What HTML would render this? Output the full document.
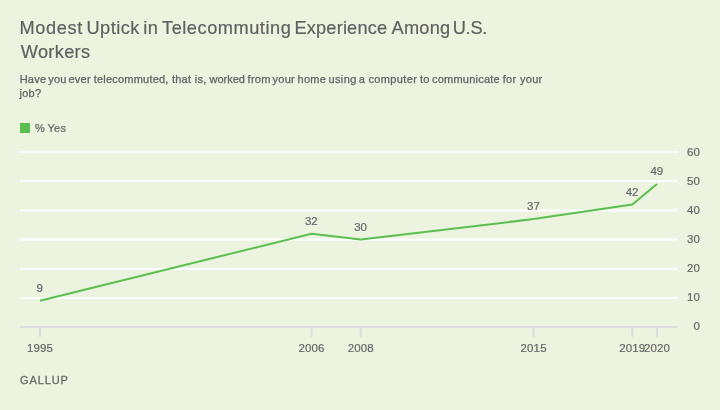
<!DOCTYPE html>
<html><head><meta charset="utf-8">
<style>
html,body{margin:0;padding:0;}
body{width:720px;height:410px;background:#ecf3de;overflow:hidden;position:relative;font-family:"Liberation Sans",Arial,sans-serif;}
svg{position:absolute;left:0;top:0;}
text{font-family:"Liberation Sans",Arial,sans-serif;}
.title{font-size:18.2px;fill:#606261;stroke:#606261;stroke-width:0.2px;}
.sub{font-size:11px;fill:#616362;stroke:#616362;stroke-width:0.25px;}
.leg{font-size:11px;fill:#616362;letter-spacing:0.3px;word-spacing:-0.8px;stroke:#616362;stroke-width:0.2px;}
.ax{font-size:11.5px;fill:#666867;letter-spacing:0.15px;stroke:#666867;stroke-width:0.2px;}
.dl{font-size:11.5px;fill:#666867;letter-spacing:0px;stroke:#666867;stroke-width:0.2px;}
.brand{font-size:11px;fill:#6a6c6b;letter-spacing:0.9px;stroke:#6a6c6b;stroke-width:0.3px;}
</style></head>
<body>
<svg width="720" height="410" viewBox="0 0 720 410">
<rect x="0" y="0" width="720" height="410" fill="#ecf3de"/>
<text class="title" y="34"><tspan x="19.38" style="letter-spacing:0.635px">Modest</tspan> <tspan x="86.5" style="letter-spacing:0.45px">Uptick</tspan> <tspan x="143.25" style="letter-spacing:0.385px">in</tspan> <tspan x="162.0" style="letter-spacing:0.542px">Telecommuting</tspan> <tspan x="294.52" style="letter-spacing:0.172px">Experience</tspan> <tspan x="391.57" style="letter-spacing:0.237px">Among</tspan> <tspan x="452.7" style="letter-spacing:-0.25px">U.S.</tspan></text>
<text class="title" y="58"><tspan x="20.77" style="letter-spacing:0.317px">Workers</tspan></text>
<text class="sub" y="83"><tspan x="19.7" style="letter-spacing:0.24px">Have</tspan> <tspan x="48.25" style="letter-spacing:0.24px">you</tspan> <tspan x="68.5" style="letter-spacing:0.24px">ever</tspan> <tspan x="93.75" style="letter-spacing:0.208px">telecommuted,</tspan> <tspan x="171.88" style="letter-spacing:0.24px">that</tspan> <tspan x="194.75" style="letter-spacing:0.24px">is,</tspan> <tspan x="209.5" style="letter-spacing:0.0px">worked</tspan> <tspan x="247.62" style="letter-spacing:0.24px">from</tspan> <tspan x="272.62" style="letter-spacing:0.24px">your</tspan> <tspan x="297.62" style="letter-spacing:0.24px">home</tspan> <tspan x="328.5" style="letter-spacing:0.375px">using</tspan> <tspan x="358.77" style="letter-spacing:0.24px">a</tspan> <tspan x="368.42" style="letter-spacing:0.379px">computer</tspan> <tspan x="419.98" style="letter-spacing:0.24px">to</tspan> <tspan x="431.98" style="letter-spacing:0.235px">communicate</tspan> <tspan x="502.83" style="letter-spacing:0.24px">for</tspan> <tspan x="520.1" style="letter-spacing:0.24px">your</tspan></text>
<text class="sub" y="97"><tspan x="19.5" style="letter-spacing:0.25px">job?</tspan></text>
<rect x="20" y="123" width="10" height="10" fill="#5bbf4f"/>
<text class="leg" x="35" y="131.7">% Yes</text>
<g stroke="#ffffff" stroke-width="2">
<line x1="20" x2="677" y1="152" y2="152"/>
<line x1="20" x2="677" y1="181" y2="181"/>
<line x1="20" x2="677" y1="210.4" y2="210.4"/>
<line x1="20" x2="677" y1="239.4" y2="239.4"/>
<line x1="20" x2="677" y1="269" y2="269"/>
<line x1="20" x2="677" y1="298" y2="298"/>
</g>
<g stroke="#dcdcdc" stroke-width="2">
<line x1="20" x2="677" y1="327" y2="327"/>
<line x1="40.0" x2="40.0" y1="327" y2="336.8"/>
<line x1="311.5" x2="311.5" y1="327" y2="336.8"/>
<line x1="360.8" x2="360.8" y1="327" y2="336.8"/>
<line x1="533.6" x2="533.6" y1="327" y2="336.8"/>
<line x1="632.3" x2="632.3" y1="327" y2="336.8"/>
<line x1="657.0" x2="657.0" y1="327" y2="336.8"/>
</g>
<polyline fill="none" stroke="#5bbf4f" stroke-width="2" stroke-linejoin="round" stroke-linecap="butt" points="40.0,300.8 311.5,233.7 360.8,239.5 533.6,219.1 632.3,204.5 657.0,184.1"/>
<g class="ax" text-anchor="middle">
<text x="40.0" y="351.8">1995</text>
<text x="311.5" y="351.8">2006</text>
<text x="360.8" y="351.8">2008</text>
<text x="533.6" y="351.8">2015</text>
<text x="632.3" y="351.8">2019</text>
<text x="657.0" y="351.8">2020</text>
</g>
<g class="ax">
<text x="687" y="155.5">60</text>
<text x="687" y="184.6">50</text>
<text x="687" y="213.9">40</text>
<text x="687" y="243.0">30</text>
<text x="687" y="271.8">20</text>
<text x="687" y="300.8">10</text>
<text x="693.6" y="329.8">0</text>
</g>
<g class="dl" text-anchor="middle">
<text x="39.8" y="291.9">9</text>
<text x="311.3" y="224.9">32</text>
<text x="360.6" y="230.7">30</text>
<text x="533.4" y="210.3">37</text>
<text x="632.1" y="195.7">42</text>
<text x="656.8" y="175.3">49</text>
</g>
<text class="brand" x="20" y="384">GALLUP</text>
</svg>
</body></html>
